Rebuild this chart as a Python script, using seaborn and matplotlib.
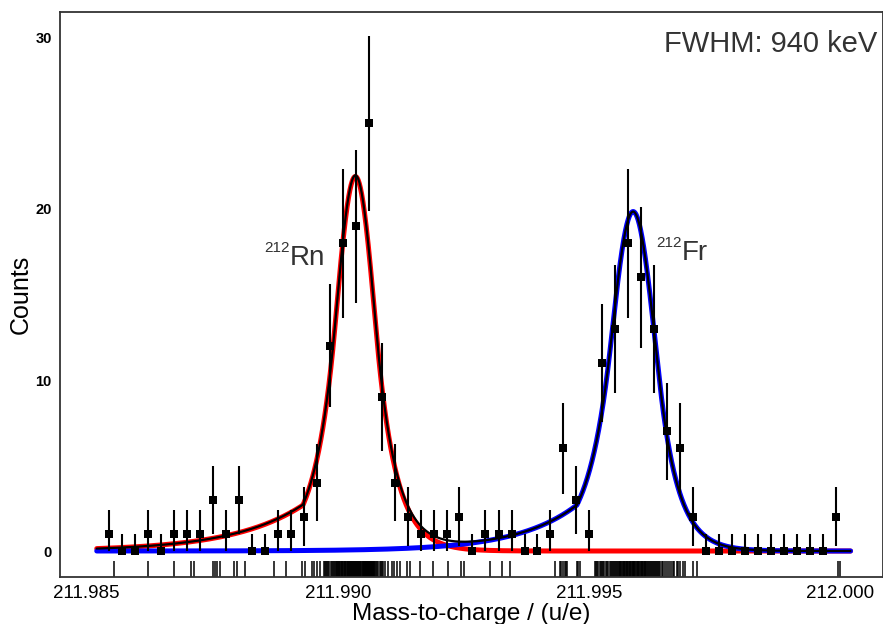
import numpy as np
import pandas as pd
import matplotlib
matplotlib.use("Agg")
import matplotlib.pyplot as plt
import seaborn as sns

# ---------------- data ----------------
bin_centers = [
    211.98545, 211.98571, 211.98597, 211.98622, 211.98648, 211.98674, 211.98700, 211.98726,
    211.98752, 211.98777, 211.98803, 211.98829, 211.98855, 211.98881, 211.98907, 211.98932,
    211.98958, 211.98984, 211.99010, 211.99036, 211.99062, 211.99087, 211.99113, 211.99139,
    211.99165, 211.99191, 211.99217, 211.99242, 211.99268, 211.99294, 211.99320, 211.99346,
    211.99372, 211.99397, 211.99423, 211.99449, 211.99475, 211.99501, 211.99527, 211.99552,
    211.99578, 211.99604, 211.99630, 211.99656, 211.99682, 211.99707, 211.99733, 211.99759,
    211.99785, 211.99811, 211.99837, 211.99862, 211.99888, 211.99914, 211.99940, 211.99966,
    211.99992]
counts = [1, 0, 0, 1, 0, 1, 1, 1, 3, 1, 3, 0, 0, 1, 1, 2, 4,
          12, 18, 19, 25, 9, 4, 2, 1, 1, 1, 2, 0, 1, 1, 1, 0, 0,
          1, 6, 3, 1, 11, 13, 18, 16, 13, 7, 6, 2,
          0, 0, 0, 0, 0, 0, 0, 0, 0, 0, 2]

events = [
    211.98554, 211.98623, 211.98674, 211.98708, 211.98714,
    211.98752, 211.98756, 211.98760, 211.98765,
    211.98794, 211.98799, 211.98815, 211.98872, 211.98897,
    211.98928, 211.98935, 211.98948, 211.98953, 211.98958, 211.98965,
    211.98972, 211.98974, 211.98976, 211.98979, 211.98981, 211.98983,
    211.98986, 211.98988, 211.98990, 211.98992, 211.98994, 211.98996,
    211.98998, 211.98999, 211.99000, 211.99002, 211.99003, 211.99005,
    211.99006, 211.99008, 211.99009, 211.99011, 211.99012, 211.99014,
    211.99015, 211.99017, 211.99018, 211.99020, 211.99021, 211.99022,
    211.99024, 211.99025, 211.99027, 211.99028, 211.99029, 211.99031,
    211.99032, 211.99033, 211.99035, 211.99036, 211.99037, 211.99039,
    211.99040, 211.99041, 211.99043, 211.99044, 211.99045, 211.99047, 211.99048,
    211.99050, 211.99051, 211.99052, 211.99053, 211.99054, 211.99055,
    211.99056, 211.99057, 211.99058, 211.99059, 211.99060, 211.99061,
    211.99062, 211.99063, 211.99064, 211.99065, 211.99066, 211.99067,
    211.99068, 211.99069, 211.99070, 211.99071, 211.99072, 211.99073, 211.99074,
    211.99077, 211.99079, 211.99081, 211.99084, 211.99086, 211.99087,
    211.99090, 211.99094, 211.99099,
    211.99107, 211.99112, 211.99117, 211.99124,
    211.99137, 211.99144, 211.99164, 211.99189, 211.99220,
    211.99245, 211.99252, 211.99303, 211.99327, 211.99342,
    211.99432, 211.99442, 211.99445, 211.99448, 211.99452, 211.99454, 211.99457,
    211.99476, 211.99479, 211.99483, 211.99512,
    211.99515, 211.99517, 211.99519, 211.99522, 211.99524, 211.99527,
    211.99529, 211.99531, 211.99534, 211.99536, 211.99538,
    211.99541, 211.99543, 211.99545, 211.99547, 211.99549, 211.99551,
    211.99553, 211.99555, 211.99557, 211.99559, 211.99561, 211.99562, 211.99564,
    211.99566, 211.99567, 211.99569, 211.99570, 211.99572, 211.99573,
    211.99575, 211.99576, 211.99578, 211.99579, 211.99581, 211.99582,
    211.99584, 211.99585, 211.99587, 211.99588, 211.99589, 211.99590,
    211.99592, 211.99594, 211.99595, 211.99597, 211.99598, 211.99600,
    211.99601, 211.99603, 211.99605, 211.99606, 211.99608, 211.99609,
    211.99611, 211.99612, 211.99614, 211.99616,
    211.99618, 211.99620, 211.99622, 211.99624, 211.99626, 211.99628,
    211.99630, 211.99632, 211.99634, 211.99636, 211.99638, 211.99640, 211.99642,
    211.99645, 211.99648, 211.99652, 211.99655, 211.99659, 211.99663, 211.99667,
    211.99670, 211.99675, 211.99678, 211.99682, 211.99688, 211.99691,
    211.99708, 211.99715, 211.99995, 212.00000]

# fitted peak-shape parameters (amplitude, centre, sigma, tails)
rn_fit = dict(A=21.9, mu=211.99035, sigma=0.000402, kL=1.0, kR=1.05, kink=2.6, tau=0.001394)
fr_fit = dict(A=19.85, mu=211.99588, sigma=0.000448, kL=1.0, kR=1.2, kink=2.5, tau=0.001195)
curve_start, curve_stop = 211.98520, 212.00021

xticks = [211.985, 211.990, 211.995, 212.000]
yticks = [0, 10, 20, 30]


def peak_shape(x, A, mu, sigma, kL, kR, kink, tau):
    d = (x - mu) / sigma
    y = A * np.exp(-0.5 * d ** 2)
    y = np.where(d < -kL, A * np.exp(0.5 * kL ** 2 + kL * d), y)
    y = np.where(d > kR, A * np.exp(0.5 * kR ** 2 - kR * d), y)
    y_k = A * np.exp(0.5 * kL ** 2 - kL * kink)
    xk = mu - kink * sigma
    y = np.where(x < xk, y_k * np.exp((x - xk) / tau), y)
    return y


# ---------------- figure ----------------
sns.set_style("white")
plt.rcParams['font.family'] = ['Liberation Sans', 'DejaVu Sans']

fig = plt.figure(figsize=(8.83, 6.24), dpi=100)
ax = fig.add_axes([60 / 883, 47 / 624, 822.5 / 883, 565 / 624])

xs = np.linspace(curve_start, curve_stop, 3000)
rn = peak_shape(xs, **rn_fit)
fr = peak_shape(xs, **fr_fit)
curves = pd.DataFrame({"x": xs, "rn": rn, "fr": fr, "total": rn + fr})

sns.rugplot(x=events, height=0.028, color="black", linewidth=1.1, ax=ax,
            expand_margins=False, zorder=1)

sns.lineplot(data=curves, x="x", y="rn", color="#ff0000", linewidth=3.6, ax=ax, zorder=2)
sns.lineplot(data=curves, x="x", y="fr", color="#0000ff", linewidth=3.6, ax=ax, zorder=3)
sns.lineplot(data=curves, x="x", y="total", color="black", linewidth=1.6, ax=ax, zorder=4)

cnt = np.array(counts, dtype=float)
err = np.sqrt(cnt + 1)
lower = np.minimum(err, cnt)
ax.errorbar(bin_centers, cnt, yerr=[lower, err], fmt="none", ecolor="black",
            elinewidth=1.5, capsize=0, zorder=5)
sns.scatterplot(x=bin_centers, y=counts, marker="s", s=30, color="black",
                linewidth=0, ax=ax, zorder=6)

ax.set_xlim(211.984468, 212.000846)
ax.set_ylim(-1.52, 31.52)
ax.set_xticks(xticks)
ax.set_xticklabels([f"{t:.3f}" for t in xticks])
ax.set_yticks(yticks)
ax.set_yticklabels([str(t) for t in yticks])
ax.tick_params(axis="x", length=4, width=1, color="#555555", pad=2,
               labelsize=13.5, labelcolor="black")
ax.tick_params(axis="y", length=4, width=1, color="#555555", pad=2,
               labelsize=10.5, labelcolor="black")
for lbl in ax.get_yticklabels():
    lbl.set_fontweight("bold")

for sp in ax.spines.values():
    sp.set_color("#333333")
    sp.set_linewidth(1.3)

ax.set_xlabel("Mass-to-charge / (u/e)", fontsize=17.5, labelpad=0.5, color="black")
ax.set_ylabel("Counts", fontsize=18, labelpad=2, color="black")

txt_col = "#333333"
ax.text(211.988530, 17.49, "212", fontsize=11, color=txt_col, ha="left", va="baseline")
ax.text(211.989038, 16.73, "Rn", fontsize=20, color=txt_col, ha="left", va="baseline")
ax.text(211.996350, 17.78, "212", fontsize=11, color=txt_col, ha="left", va="baseline")
ax.text(211.996847, 17.02, "Fr", fontsize=20, color=txt_col, ha="left", va="baseline")

fig.text(877 / 883, 1 - 44 / 624, "FWHM: 940 keV", fontsize=21, color=txt_col,
         ha="right", va="center")

fig.savefig("out.png", dpi=100)
